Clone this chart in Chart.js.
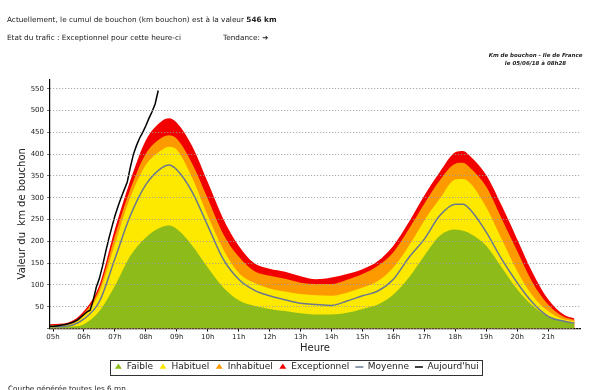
<!DOCTYPE html>
<html>
<head>
<meta charset="utf-8">
<script src="https://cdn.jsdelivr.net/npm/chart.js@4"></script>
<style>
body{margin:0;background:#fff;}
#wrap{position:relative;width:600px;height:390px;overflow:hidden;font-family:"DejaVu Sans",Verdana,sans-serif;color:#222;}
.t{position:absolute;font-size:7.3px;line-height:1;white-space:nowrap;z-index:2;}
.src{position:absolute;left:478px;top:52px;width:115px;text-align:center;font-size:5.5px;line-height:7.5px;font-weight:bold;font-style:italic;white-space:nowrap;z-index:2;}
canvas{position:absolute;left:0;top:0;}
</style>
</head>
<body>
<div id="wrap">
  <div class="t" style="left:7px;top:16px">Actuellement, le cumul de bouchon (km bouchon) est à la valeur <b>546 km</b></div>
  <div class="t" style="left:7px;top:33.5px">Etat du trafic : Exceptionnel pour cette heure-ci</div>
  <div class="t" style="left:223px;top:33.5px">Tendance: <b>➔</b></div>
  <div class="src">Km de bouchon - Ile de France<br>le 05/06/18 à 08h28</div>
  <div class="t" style="left:8px;top:385px">Courbe générée toutes les 6 mn</div>
  <canvas id="chart" width="600" height="390"></canvas>
</div>
<script>
// hours of the reference curves (half hour steps, plus the peaks)
const areaHours = [4.9, 5.5, 6, 6.5, 7, 7.5, 8, 8.5, 8.75, 9, 9.5, 10, 10.5, 11, 11.5, 12, 12.5, 13, 13.5, 14,
  14.5, 15, 15.5, 16, 16.5, 17, 17.5, 18, 18.25, 18.5, 19, 19.5, 20, 20.5, 21, 21.5, 21.85];

// top of each band, km
const exceptionnel = [10, 14, 40, 100, 228, 340, 432, 475, 482, 472, 418, 336, 252, 190, 150, 137, 130, 120, 113, 117,
  125, 136, 155, 190, 244, 305, 359, 404, 407, 394, 352, 282, 205, 128, 67, 32, 23];
const inhabituel = [8, 11, 35, 92, 213, 320, 401, 437, 443, 435, 378, 298, 217, 165, 132, 121, 114, 105, 102, 102,
  112, 125, 144, 175, 228, 286, 340, 378, 380, 367, 325, 252, 178, 105, 55, 27, 20];
const habituel = [6, 9, 30, 83, 194, 301, 375, 409, 417, 410, 345, 259, 182, 128, 105, 92, 85, 79, 76, 75,
  82, 94, 109, 140, 190, 248, 298, 342, 343, 332, 278, 205, 132, 75, 40, 21, 17];
const faible = [2, 4, 10, 40, 98, 167, 209, 232, 236, 228, 190, 140, 94, 65, 52, 45, 40, 35, 32, 32,
  36, 45, 55, 78, 117, 167, 213, 227, 224, 217, 190, 140, 90, 52, 28, 17, 10];
const moyenne = [4, 6, 22, 62, 160, 259, 330, 368, 375, 364, 313, 236, 159, 113, 88, 75, 66, 58, 55, 53,
  63, 75, 86, 113, 163, 205, 259, 285, 285, 271, 221, 159, 105, 59, 28, 17, 12];

// today's curve, every 6 minutes up to 08h24
const todayHours = [4.9, 5.0, 5.1, 5.2, 5.3, 5.4, 5.5, 5.6, 5.7, 5.8, 5.9, 6.0, 6.1, 6.2, 6.3, 6.4, 6.5, 6.6, 6.7,
  6.8, 6.9, 7.0, 7.1, 7.2, 7.3, 7.4, 7.5, 7.6, 7.7, 7.8, 7.9, 8.0, 8.1, 8.2, 8.3, 8.4];
const aujourdhui = [5, 5, 6, 7, 8, 9, 11, 13, 16, 20, 26, 32, 38, 42, 65, 95, 115, 143, 175,
  205, 232, 258, 280, 300, 318, 336, 370, 400, 420, 437, 450, 465, 482, 497, 515, 546];

const hourTicks = [5, 6, 7, 8, 9, 10, 11, 12, 13, 14, 15, 16, 17, 18, 19, 20, 21];
const hourLabels = ["05h", "06h", "07h", "08h", "09h", "10h", "11h", "12h", "13h", "14h", "15h", "16h", "17h", "18h", "19h", "20h", "21h"];
const kmTicks = [0, 50, 100, 150, 200, 250, 300, 350, 400, 450, 500, 550];

function pts(xs, ys) {
  return xs.map((x, i) => ({x: x, y: ys[i]}));
}

function band(label, values, color, order) {
  return {
    label: label,
    data: pts(areaHours, values),
    backgroundColor: color,
    borderColor: color,
    borderWidth: 0,
    fill: "origin",
    pointRadius: 0,
    pointStyle: "triangle",
    cubicInterpolationMode: "monotone",
    order: order
  };
}

// draws the frame round the legend
const legendFrame = {
  id: "legendFrame",
  afterDraw(chart) {
    const hb = chart.legend.legendHitBoxes;
    if (!hb || !hb.length) return;
    const l = Math.min(...hb.map(b => b.left)) - 4;
    const r = Math.max(...hb.map(b => b.left + b.width)) + 4;
    const t = hb[0].top - 3;
    const h = hb[0].height + 6;
    const ctx = chart.ctx;
    ctx.save();
    ctx.strokeStyle = "#333";
    ctx.lineWidth = 1;
    ctx.strokeRect(Math.round(l) + 0.5, Math.round(t) + 0.5, Math.round(r - l), Math.round(h));
    ctx.restore();
  }
};

Chart.defaults.font.family = "DejaVu Sans";
Chart.defaults.color = "#222";

const ctx = document.getElementById("chart").getContext("2d");
new Chart(ctx, {
  type: "line",
  data: {
    datasets: [
      band("Faible", faible, "#8dbb19", 2),
      band("Habituel", habituel, "#fde800", 3),
      band("Inhabituel", inhabituel, "#fd9a00", 4),
      band("Exceptionnel", exceptionnel, "#f20000", 5),
      {
        label: "Moyenne",
        data: pts(areaHours, moyenne),
        borderColor: "#6a7790",
        backgroundColor: "#6a7790",
        borderWidth: 1.5,
        fill: false,
        pointRadius: 0,
        pointStyle: "line",
        cubicInterpolationMode: "monotone",
        order: 1
      },
      {
        label: "Aujourd'hui",
        data: pts(todayHours, aujourdhui),
        borderColor: "#000",
        backgroundColor: "#000",
        borderWidth: 1.5,
        fill: false,
        pointRadius: 0,
        pointStyle: "line",
        tension: 0,
        order: 0
      }
    ]
  },
  options: {
    responsive: false,
    animation: false,
    layout: {padding: {top: 80, right: 20, left: 13, bottom: 8.5}},
    plugins: {
      tooltip: {enabled: false},
      legend: {
        position: "bottom",
        labels: {
          usePointStyle: true,
          pointStyleWidth: 8,
          boxHeight: 5,
          padding: 6,
          font: {size: 9},
          sort: (a, b) => a.datasetIndex - b.datasetIndex
        }
      }
    },
    scales: {
      x: {
        type: "linear",
        min: 4.903,
        max: 22.03,
        afterBuildTicks: (scale) => { scale.ticks = hourTicks.map(v => ({value: v})); },
        afterFit: (scale) => { scale.height = 28; },
        ticks: {
          font: {size: 7},
          padding: 1,
          maxRotation: 0,
          autoSkip: false,
          callback: (v, i) => hourLabels[i]
        },
        grid: {drawOnChartArea: false, tickLength: 3, color: "#000", tickColor: "#000"},
        border: {color: "#000", width: 1.2},
        title: {display: true, text: "Heure", font: {size: 10}, padding: {top: 0, bottom: 2}}
      },
      y: {
        min: 0,
        max: 570,
        afterBuildTicks: (scale) => { scale.ticks = kmTicks.map(v => ({value: v})); },
        afterFit: (scale) => { scale.width = 37; },
        ticks: {
          font: {size: 7},
          padding: 3,
          callback: (v) => (v === 0 ? "" : v)
        },
        grid: {color: "#9a9a9a", tickColor: "#777", tickLength: 3, z: 1},
        border: {color: "#000", width: 1.2, dash: [1, 2], z: 1},
        title: {
          display: true,
          text: "Valeur du  km de bouchon\u00a0\u00a0\u00a0\u00a0\u00a0\u00a0",
          font: {size: 10},
          padding: {top: 3, bottom: 0}
        }
      }
    }
  },
  plugins: [legendFrame]
});
</script>
</body>
</html>
